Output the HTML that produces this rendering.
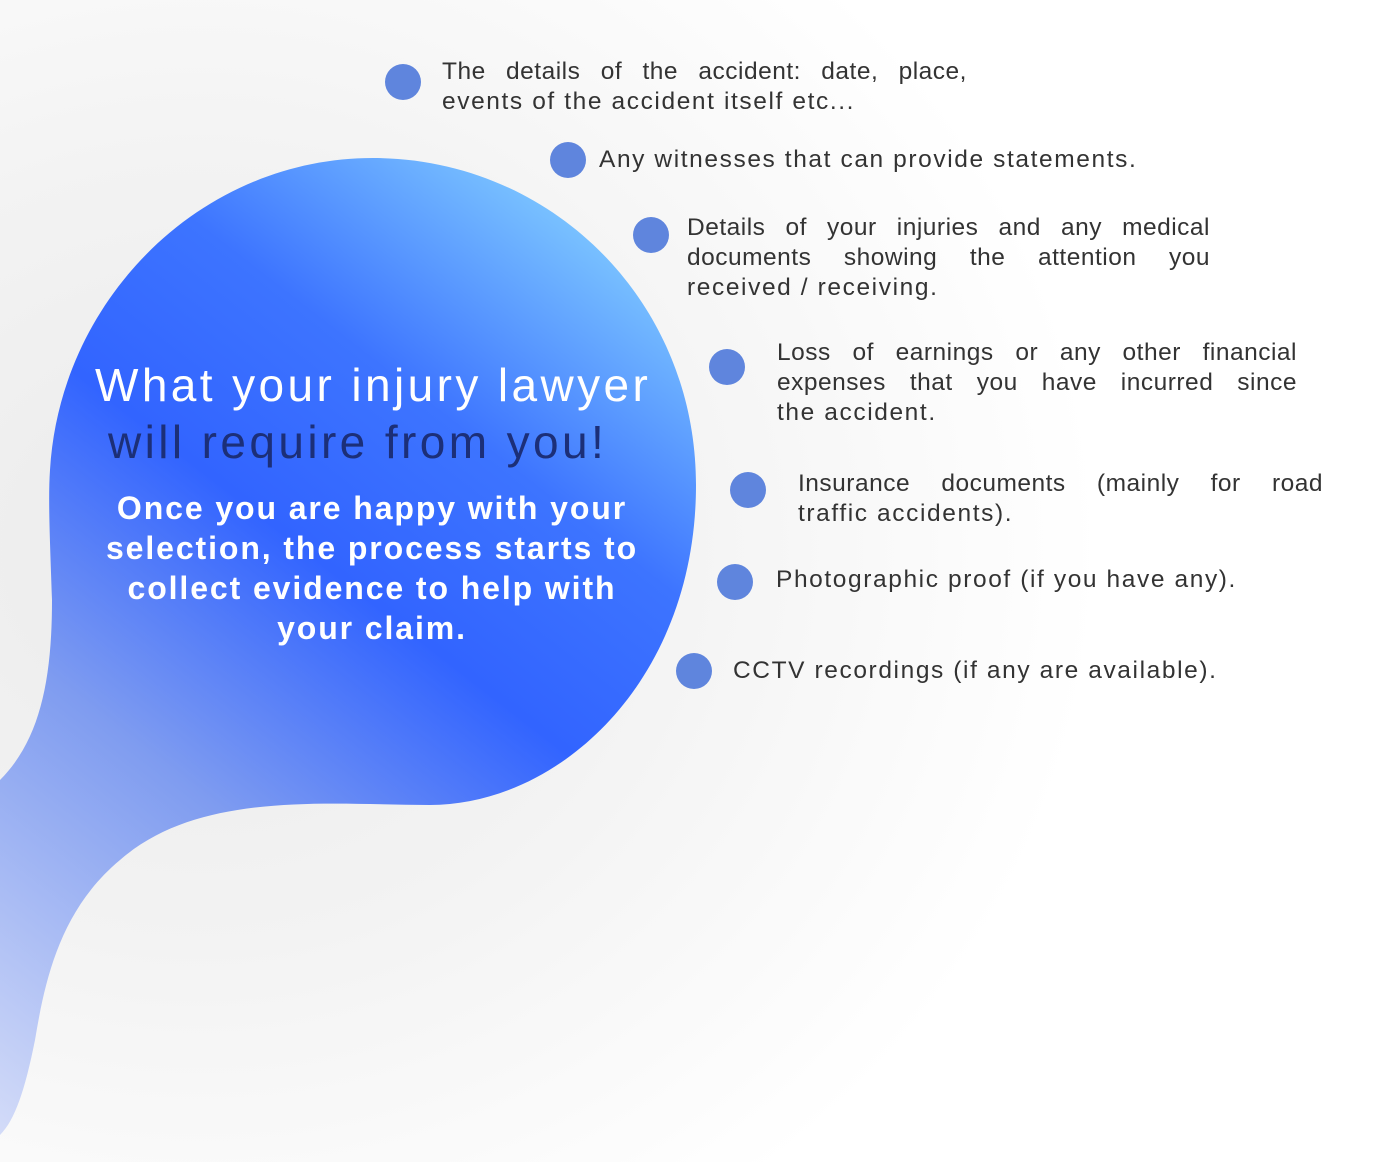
<!DOCTYPE html>
<html><head><meta charset="utf-8"><style>
body{margin:0;width:1387px;height:1162px;overflow:hidden;position:relative;font-family:"Liberation Sans",sans-serif;
background:radial-gradient(ellipse 900px 800px at 200px 550px,#ebebeb 0%,#f3f3f3 50%,#ffffff 100%);}
.l{position:absolute;font-size:24.5px;color:#333;white-space:nowrap;line-height:30px;letter-spacing:1.6px}
.j{text-align:justify;text-align-last:justify;letter-spacing:0.5px}
.d{position:absolute;width:36px;height:36px;border-radius:50%;background:#5f85dd}
.t{position:absolute;color:#fff;font-weight:bold;text-align:center;white-space:nowrap}
</style></head><body>
<svg width="1387" height="1162" style="position:absolute;left:0;top:0">
<defs><linearGradient id="g" gradientUnits="userSpaceOnUse" x1="690" y1="250" x2="0" y2="1140">
<stop offset="0" stop-color="#86d2ff"/><stop offset="0.25" stop-color="#3d74ff"/><stop offset="0.42" stop-color="#3264ff"/><stop offset="0.65" stop-color="#7f9cf0"/><stop offset="1" stop-color="#d4dcf8"/></linearGradient></defs>
<path fill="url(#g)" d="M373,158 C550,158 696,300 696,485 C696,680 560,805 430,805 C330,805 200,790 120,860 C60,910 45,980 35,1040 C25,1090 15,1120 0,1135 L0,780 C40,740 52,680 52,600 C50,540 48,500 50,470 C60,300 200,158 373,158 Z"/>
</svg>
<div class="t" style="left:95px;top:358px;font-size:46px;font-weight:normal;letter-spacing:3.4px">What your injury lawyer</div>
<div class="t" style="left:108px;top:415px;font-size:46px;font-weight:normal;color:#1c2f78;letter-spacing:3.4px">will require from you!</div>
<div class="t" style="left:72px;width:600px;top:488px;font-size:32px;line-height:40px;letter-spacing:1.9px">Once you are happy with your<br>selection, the process starts to<br>collect evidence to help with<br>your claim.</div>

<div class="d" style="left:385px;top:64px"></div>
<div class="l j" style="left:442px;top:57px;width:525px">The details of the accident: date, place,</div>
<div class="l" style="left:442px;top:87px">events of the accident itself etc...</div>

<div class="d" style="left:550px;top:142px"></div>
<div class="l" style="left:599px;top:145px">Any witnesses that can provide statements.</div>

<div class="d" style="left:633px;top:217px"></div>
<div class="l j" style="left:687px;top:213px;width:523px">Details of your injuries and any medical</div>
<div class="l j" style="left:687px;top:243px;width:523px">documents showing the attention you</div>
<div class="l" style="left:687px;top:273px">received / receiving.</div>

<div class="d" style="left:709px;top:349px"></div>
<div class="l j" style="left:777px;top:338px;width:520px">Loss of earnings or any other financial</div>
<div class="l j" style="left:777px;top:368px;width:520px">expenses that you have incurred since</div>
<div class="l" style="left:777px;top:398px">the accident.</div>

<div class="d" style="left:730px;top:472px"></div>
<div class="l j" style="left:798px;top:469px;width:525px">Insurance documents (mainly for road</div>
<div class="l" style="left:798px;top:499px">traffic accidents).</div>

<div class="d" style="left:717px;top:564px"></div>
<div class="l" style="left:776px;top:565px">Photographic proof (if you have any).</div>

<div class="d" style="left:676px;top:653px"></div>
<div class="l" style="left:733px;top:656px">CCTV recordings (if any are available).</div>
</body></html>
